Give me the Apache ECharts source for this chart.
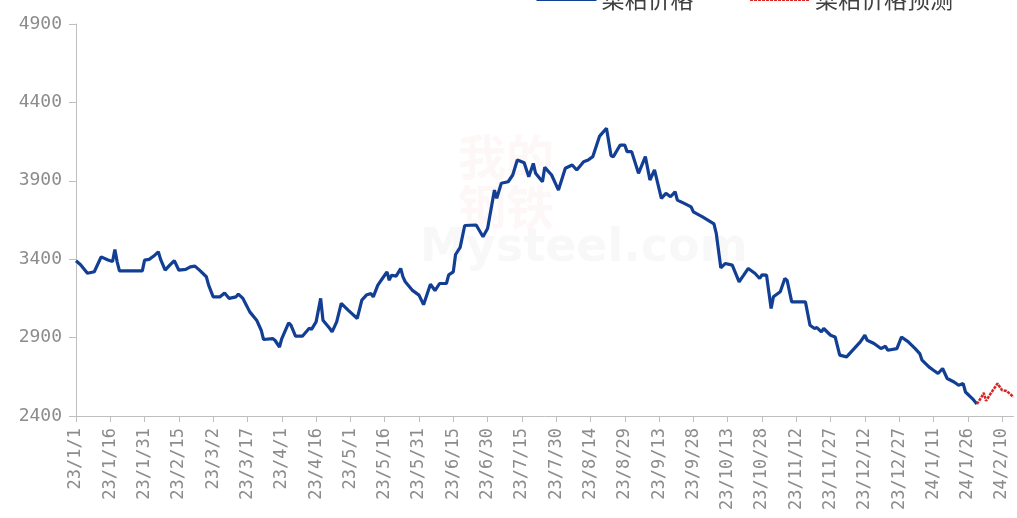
<!DOCTYPE html>
<html>
<head>
<meta charset="utf-8">
<script src="https://cdn.jsdelivr.net/npm/echarts@6/dist/echarts.min.js"></script>
<style>
html,body{margin:0;padding:0;background:#fff;}
#chart{width:1017px;height:518px;}
</style>
</head>
<body>
<div id="chart"></div>
<script>
// Category axis: every calendar day from 23/1/1 to 24/2/15
const startDate = [2023, 0, 1];
const endDate = [2024, 1, 15];
const categories = [];
(function () {
  const d = new Date(startDate[0], startDate[1], startDate[2]);
  const e = new Date(endDate[0], endDate[1], endDate[2]);
  while (d <= e) {
    categories.push(String(d.getFullYear() % 100) + '/' + (d.getMonth() + 1) + '/' + d.getDate());
    d.setDate(d.getDate() + 1);
  }
})();

const seriesNames = ['菜粕价格', '菜粕价格预测'];

const priceDates = [
  '23/1/1','23/1/3','23/1/6','23/1/9','23/1/12','23/1/15','23/1/17','23/1/18','23/1/19','23/1/20',
  '23/1/30','23/1/31','23/2/2','23/2/4','23/2/6','23/2/7','23/2/9','23/2/11','23/2/13','23/2/15',
  '23/2/18','23/2/20','23/2/22','23/2/24','23/2/27','23/2/28','23/3/2','23/3/5','23/3/7','23/3/9',
  '23/3/12','23/3/13','23/3/15','23/3/18','23/3/21','23/3/23','23/3/24','23/3/28','23/3/29','23/3/31',
  '23/4/1','23/4/4','23/4/5','23/4/7','23/4/10','23/4/13','23/4/14','23/4/16','23/4/18','23/4/19',
  '23/4/22','23/4/23','23/4/25','23/4/27','23/4/30','23/5/4','23/5/6','23/5/8','23/5/10','23/5/11',
  '23/5/13','23/5/15','23/5/17','23/5/18','23/5/19','23/5/21','23/5/23','23/5/24','23/5/25','23/5/28',
  '23/5/31','23/6/2','23/6/5','23/6/7','23/6/9','23/6/12','23/6/13','23/6/15','23/6/16','23/6/18',
  '23/6/20','23/6/25','23/6/28','23/6/30','23/7/3','23/7/4','23/7/6','23/7/9','23/7/11','23/7/13',
  '23/7/16','23/7/18','23/7/20','23/7/21','23/7/24','23/7/25','23/7/28','23/7/31','23/8/3','23/8/6',
  '23/8/8','23/8/11','23/8/13','23/8/15','23/8/18','23/8/21','23/8/23','23/8/24','23/8/27','23/8/29',
  '23/8/30','23/9/1','23/9/4','23/9/7','23/9/9','23/9/11','23/9/14','23/9/16','23/9/18','23/9/20',
  '23/9/21','23/9/24','23/9/27','23/9/28','23/10/2','23/10/7','23/10/8','23/10/10','23/10/12','23/10/15',
  '23/10/18','23/10/20','23/10/22','23/10/25','23/10/27','23/10/28','23/10/30','23/11/1','23/11/2','23/11/5',
  '23/11/7','23/11/8','23/11/10','23/11/16','23/11/18','23/11/20','23/11/21','23/11/23','23/11/24','23/11/27',
  '23/11/29','23/12/1','23/12/4','23/12/6','23/12/8','23/12/10','23/12/12','23/12/13','23/12/16','23/12/19',
  '23/12/21','23/12/22','23/12/26','23/12/28','23/12/31','24/1/3','24/1/5','24/1/6','24/1/9','24/1/11',
  '24/1/13','24/1/15','24/1/17','24/1/20','24/1/22','24/1/24','24/1/25','24/1/28','24/1/30'
];
const priceValues = [
  3390,3365,3310,3320,3415,3395,3385,3462,3383,3326,
  3326,3394,3399,3420,3447,3399,3330,3362,3390,3330,
  3335,3351,3356,3330,3288,3235,3160,3160,3185,3150,
  3160,3177,3150,3064,3011,2947,2888,2894,2883,2840,
  2894,2994,2979,2909,2909,2960,2952,3000,3150,3011,
  2958,2936,3000,3118,3075,3022,3139,3171,3181,3160,
  3235,3277,3319,3266,3298,3292,3341,3287,3256,3203,
  3171,3110,3240,3200,3245,3245,3300,3319,3430,3475,
  3615,3618,3543,3596,3841,3788,3884,3894,3937,4033,
  4015,3926,4011,3948,3894,3986,3937,3841,3980,4001,
  3969,4022,4033,4054,4185,4235,4060,4054,4128,4128,
  4086,4086,3948,4054,3905,3969,3788,3820,3798,3830,
  3777,3756,3734,3702,3670,3625,3565,3345,3373,3362,
  3256,3298,3341,3309,3277,3300,3298,3086,3160,3192,
  3277,3265,3128,3128,2979,2958,2964,2936,2958,2915,
  2904,2788,2777,2809,2841,2873,2915,2883,2862,2830,
  2845,2819,2830,2904,2873,2830,2798,2756,2713,2692,
  2671,2703,2639,2617,2596,2607,2553,2511,2476
];

const forecastDates = ['24/1/30','24/2/1','24/2/2','24/2/3','24/2/5','24/2/8','24/2/10','24/2/12','24/2/15'];
const forecastValues = [2476, 2521, 2547, 2496, 2543, 2607, 2564, 2560, 2521];

const yTicks = { min: 2400, max: 4900, interval: 500 };

const chart = echarts.init(document.getElementById('chart'), null, { renderer: 'canvas' });
const axisFont = 'DejaVu Sans Mono';
chart.setOption({
  backgroundColor: '#ffffff',
  animation: false,
  graphic: [
    {
      type: 'text', left: 420, top: 226, silent: true, z: 0,
      style: { text: 'Mysteel.com', font: 'bold 46px "DejaVu Sans"', fill: 'rgba(190,190,190,0.10)' }
    },
    {
      type: 'text', left: 458, top: 132, silent: true, z: 0,
      style: { text: '我的\n钢铁', font: 'bold 48px "Noto Sans CJK SC"', fill: 'rgba(220,90,90,0.05)', lineHeight: 50 }
    }
  ],
  legend: {
    top: -17,
    left: 530,
    itemWidth: 60,
    itemHeight: 14,
    itemGap: 55,
    itemStyle: { opacity: 0 },
    lineStyle: { width: 3 },
    textStyle: { fontFamily: 'Noto Sans CJK SC', fontSize: 23, color: '#404040' },
    data: seriesNames
  },
  grid: { left: 76, right: 3.5, top: 24, bottom: 102, containLabel: false },
  xAxis: {
    type: 'category',
    boundaryGap: false,
    data: categories,
    axisLine: { lineStyle: { color: '#bfbfbf', width: 1 } },
    axisTick: { show: true, interval: 14, length: 6, lineStyle: { color: '#bfbfbf' } },
    axisLabel: {
      interval: 14, rotate: 90, margin: 12,
      fontFamily: axisFont, fontSize: 17, color: '#8c8c8c'
    },
    splitLine: { show: false }
  },
  yAxis: {
    type: 'value',
    min: yTicks.min, max: yTicks.max, interval: yTicks.interval,
    axisLine: { show: true, lineStyle: { color: '#bfbfbf', width: 1 } },
    axisTick: { show: true, length: 7, lineStyle: { color: '#bfbfbf' } },
    axisLabel: {
      margin: 14, fontFamily: axisFont, fontSize: 18, color: '#8c8c8c',
      formatter: function (v) { return String(v); }
    },
    splitLine: { show: false }
  },
  series: [
    {
      name: seriesNames[0],
      type: 'line',
      symbol: 'none',
      showSymbol: false,
      data: priceDates.map((d, i) => [d, priceValues[i]]),
      lineStyle: { color: '#123f94', width: 3.2 },
      itemStyle: { color: '#123f94' },
      z: 3
    },
    {
      name: seriesNames[1],
      type: 'line',
      symbol: 'none',
      showSymbol: false,
      data: forecastDates.map((d, i) => [d, forecastValues[i]]),
      lineStyle: { color: '#d62626', width: 2.5, type: [3, 1] },
      itemStyle: { color: '#d62626' },
      z: 4
    }
  ]
});
</script>
</body>
</html>
